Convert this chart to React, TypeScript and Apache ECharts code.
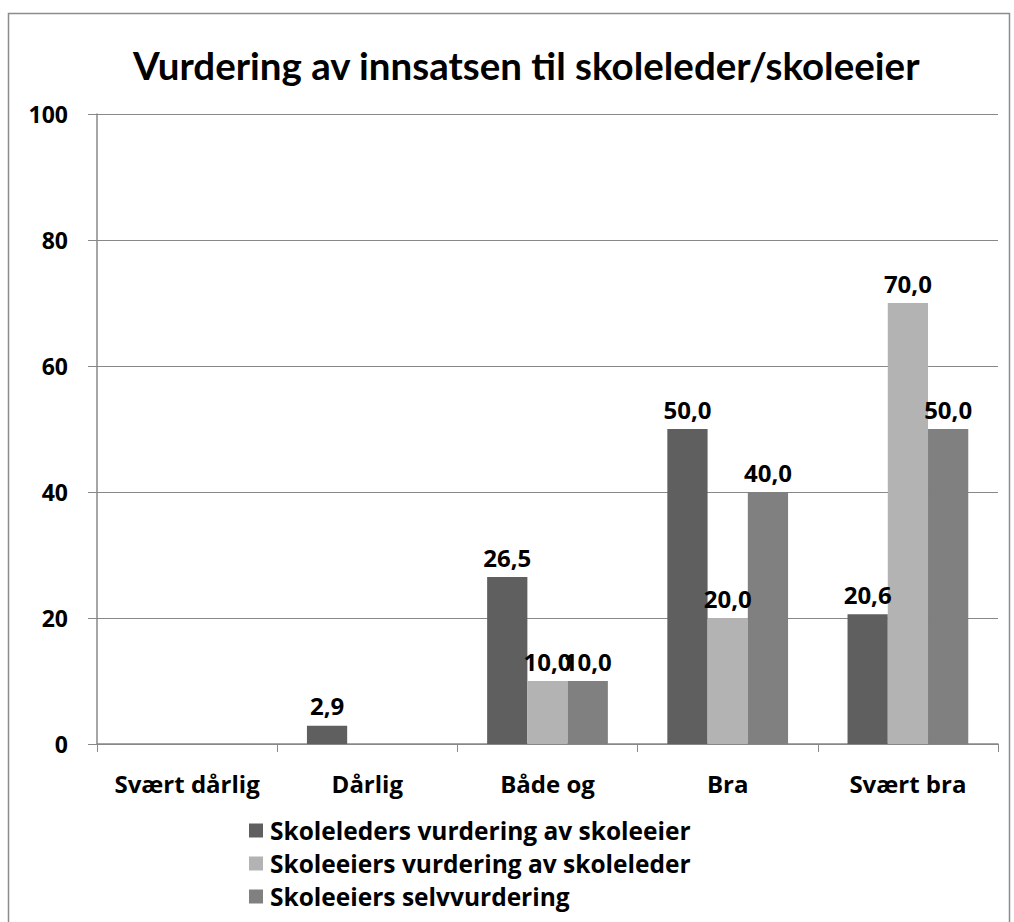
import React, { useEffect, useRef } from "react";
import * as echarts from "echarts";

const categories = ["Svært dårlig", "Dårlig", "Både og", "Bra", "Svært bra"];
const seriesNames = [
  "Skoleleders vurdering av skoleeier",
  "Skoleeiers vurdering av skoleleder",
  "Skoleeiers selvvurdering",
];
const lederOmEier: (number | null)[] = [null, 2.9, 26.5, 50.0, 20.6];
const eierOmLeder: (number | null)[] = [null, null, 10.0, 20.0, 70.0];
const eierSelv: (number | null)[] = [null, null, 10.0, 40.0, 50.0];
const yTicks = { min: 0, max: 100, interval: 20 };
const colors = ["#5f5f5f", "#b3b3b3", "#808080"];

const TITLE_FONT = "Lato";
const FONT = "Open Sans";

export default function App() {
  const ref = useRef<HTMLDivElement>(null);
  useEffect(() => {
    if (!ref.current) return;
    const chart = echarts.init(ref.current, undefined, { renderer: "svg" });
    const label = {
      show: true,
      position: "top" as const,
      distance: 8,
      color: "#000",
      fontFamily: FONT,
      fontWeight: "bold" as const,
      fontSize: 24,
      formatter: (p: any) =>
        p.value == null ? "" : Number(p.value).toFixed(1).replace(".", ","),
    };
    const data = [lederOmEier, eierOmLeder, eierSelv];
    chart.setOption({
      animation: false,
      backgroundColor: "#fff",
      title: {
        text: "Vurdering av innsatsen til skoleleder/skoleeier",
        left: 128,
        top: 40,
        textStyle: {
          fontFamily: TITLE_FONT,
          fontWeight: "bold",
          fontSize: 38.5,
          color: "#000",
        },
      },
      graphic: [
        {
          type: "rect",
          shape: { x: 8.5, y: 13.5, width: 1001, height: 920 },
          style: { fill: "none", stroke: "#8c8c8c", lineWidth: 1.5 },
          silent: true,
        },
      ],
      grid: { left: 97, right: 16, top: 114, bottom: 178 },
      legend: {
        orient: "vertical",
        left: 244,
        top: 813,
        itemWidth: 14,
        itemHeight: 14,
        itemGap: 8,
        icon: "rect",
        textStyle: {
          fontFamily: FONT,
          fontWeight: "bold",
          fontSize: 24.5,
          color: "#000",
          padding: [0, 0, 0, 2],
        },
        data: seriesNames,
      },
      xAxis: {
        type: "category",
        data: categories,
        axisLine: { lineStyle: { color: "#888", width: 1.5 } },
        axisTick: { show: true, length: 8, lineStyle: { color: "#888" } },
        axisLabel: {
          interval: 0,
          fontFamily: FONT,
          fontWeight: "bold",
          fontSize: 24,
          color: "#000",
          margin: 27,
        },
      },
      yAxis: {
        type: "value",
        min: yTicks.min,
        max: yTicks.max,
        interval: yTicks.interval,
        axisLine: { show: true, lineStyle: { color: "#888", width: 1.5 } },
        axisTick: { show: true, length: 9, lineStyle: { color: "#888" } },
        splitLine: { lineStyle: { color: "#888", width: 1.2 } },
        axisLabel: {
          fontFamily: FONT,
          fontWeight: "bold",
          fontSize: 23,
          color: "#000",
          margin: 29,
        },
      },
      series: seriesNames.map((name, i) => ({
        name,
        type: "bar",
        data: data[i],
        barGap: "0%",
        barCategoryGap: "33%",
        itemStyle: { color: colors[i] },
        label,
      })),
    });
    return () => chart.dispose();
  }, []);
  return (
    <div
      ref={ref}
      style={{ position: "fixed", left: 0, top: 0, width: 1014, height: 922 }}
    />
  );
}
